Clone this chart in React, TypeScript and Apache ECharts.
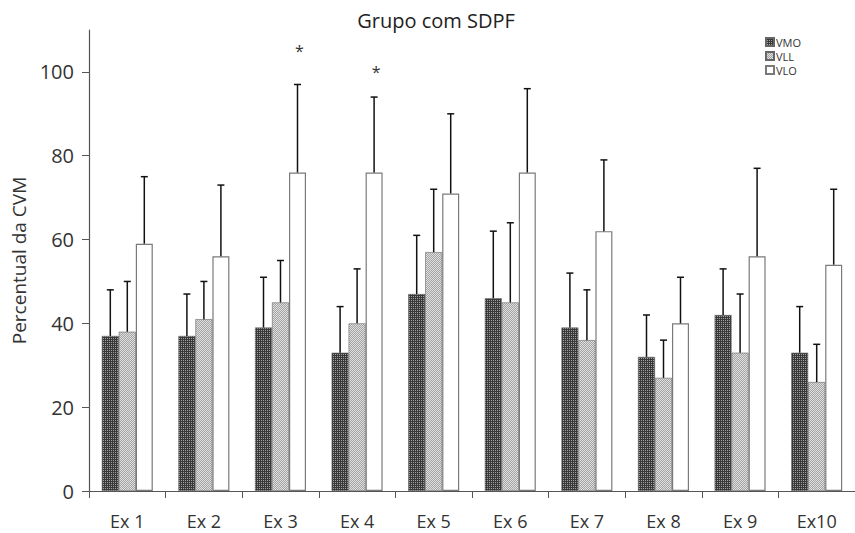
import React, { useEffect, useRef } from "react";
import * as echarts from "echarts";

const categories = ["Ex 1", "Ex 2", "Ex 3", "Ex 4", "Ex 5", "Ex 6", "Ex 7", "Ex 8", "Ex 9", "Ex10"];
const seriesNames = ["VMO", "VLL", "VLO"];
const vmoMean = [37, 37, 39, 33, 47, 46, 39, 32, 42, 33];
const vmoErrTop = [48, 47, 51, 44, 61, 62, 52, 42, 53, 44];
const vllMean = [38, 41, 45, 40, 57, 45, 36, 27, 33, 26];
const vllErrTop = [50, 50, 55, 53, 72, 64, 48, 36, 47, 35];
const vloMean = [59, 56, 76, 76, 71, 76, 62, 40, 56, 54];
const vloErrTop = [75, 73, 97, 94, 90, 96, 79, 51, 77, 72];
const significance = ["", "", "*", "*", "", "", "", "", "", ""];
const significanceY = [0, 0, 105, 100, 0, 0, 0, 0, 0, 0];
const yTicks = [0, 20, 40, 60, 80, 100];

const FONT = "'Open Sans', Lato, sans-serif";

function makePattern(base: string, dot: string, kind: number): string {
  const c = document.createElement("canvas");
  c.width = 4;
  c.height = 4;
  const ctx = c.getContext("2d")!;
  ctx.fillStyle = base;
  ctx.fillRect(0, 0, 4, 4);
  ctx.fillStyle = dot;
  for (let y = 0; y < 4; y++) {
    for (let x = 0; x < 4; x++) {
      if (kind === 0) {
        if (x % 2 === 1 && y % 2 === 0) ctx.fillRect(x, y, 1, 1);
      } else {
        if ((x + y) % 2 === 0) ctx.fillRect(x, y, 1, 1);
      }
    }
  }
  return c.toDataURL();
}

export default function App() {
  const ref = useRef<HTMLDivElement>(null);
  useEffect(() => {
    if (!ref.current) return;
    const chart = echarts.init(ref.current, undefined, { renderer: "svg" });
    const vmoImg = new Image();
    vmoImg.src = makePattern("#383838", "#a0a0a0", 0);
    const vllImg = new Image();
    vllImg.src = makePattern("#a5a5a5", "#dedede", 1);
    const fills: any[] = [
      { image: vmoImg, repeat: "repeat" },
      { image: vllImg, repeat: "repeat" },
      "#ffffff",
    ];
    const means = [vmoMean, vllMean, vloMean];
    const errs = [vmoErrTop, vllErrTop, vloErrTop];
    const BW = 17;

    const barSeries = seriesNames.map((name, s) => ({
      name,
      type: "bar",
      data: means[s],
      barWidth: BW,
      barGap: "0%",
      itemStyle: {
        color: fills[s],
        borderColor: s === 2 ? "#7a7a7a" : "#666666",
        borderWidth: s === 2 ? 1.2 : 0.6,
      },
      z: 2,
    }));

    const errSeries = seriesNames.map((name, s) => ({
      name: name + "_err",
      type: "custom",
      z: 3,
      itemStyle: { color: "#333" },
      data: categories.map((_, i) => [i, errs[s][i], means[s][i], significanceY[i]]),
      renderItem: (params: any, api: any) => {
        const i = api.value(0);
        const top = api.coord([i, api.value(1)]);
        const base = api.coord([i, api.value(2)]);
        const off = (s - 1) * BW;
        const x = top[0] + off;
        const children: any[] = [
          { type: "line", shape: { x1: x, y1: base[1], x2: x, y2: top[1] }, style: { stroke: "#111", lineWidth: 1.5 } },
          { type: "line", shape: { x1: x - 3.5, y1: top[1], x2: x + 3.5, y2: top[1] }, style: { stroke: "#111", lineWidth: 1.5 } },
        ];
        const sig = significance[i];
        if (s === 2 && sig) {
          const p = api.coord([i, api.value(3)]);
          children.push({
            type: "text",
            x: x + 2,
            y: p[1],
            style: { text: sig, fill: "#333", fontSize: 16, fontFamily: FONT, align: "center", verticalAlign: "middle" },
          });
        }
        return { type: "group", children };
      },
      silent: true,
    }));

    chart.setOption({
      animation: false,
      backgroundColor: "#ffffff",
      title: {
        text: "Grupo com SDPF",
        left: 431,
        textAlign: "center",
        top: 5,
        textStyle: { fontFamily: FONT, fontSize: 20, fontWeight: "normal", color: "#222" },
      },
      legend: {
        data: seriesNames,
        orient: "vertical",
        left: 760,
        top: 31,
        itemWidth: 8,
        itemHeight: 8,
        itemGap: 2,
        textStyle: { fontFamily: FONT, fontSize: 11, lineHeight: 12, color: "#333", padding: [0, 0, 0, -3] },
        icon: "rect",
      },
      grid: { left: 89, top: 30, width: 770, bottom: 42, containLabel: false },
      xAxis: {
        type: "category",
        data: categories,
        axisLine: { lineStyle: { color: "#555", width: 1.2 } },
        axisTick: { show: true, length: 7, lineStyle: { color: "#555" } },
        axisLabel: { fontFamily: FONT, fontSize: 18, color: "#333", margin: 21 },
      },
      yAxis: {
        type: "value",
        min: 0,
        max: 110,
        interval: 20,
        name: "Percentual da CVM",
        nameLocation: "middle",
        nameGap: 50,
        nameTextStyle: { fontFamily: FONT, fontSize: 19, color: "#333" },
        axisLine: { show: true, lineStyle: { color: "#555", width: 1.2 } },
        axisTick: { show: true, length: 7, lineStyle: { color: "#555" }, customValues: yTicks },
        axisLabel: { fontFamily: FONT, fontSize: 20, color: "#333", margin: 15, customValues: yTicks },
        splitLine: { show: false },
      },
      series: [...barSeries, ...errSeries],
    });
    return () => chart.dispose();
  }, []);
  return <div ref={ref} style={{ width: 855, height: 533, position: "absolute", left: 0, top: 0 }} />;
}
